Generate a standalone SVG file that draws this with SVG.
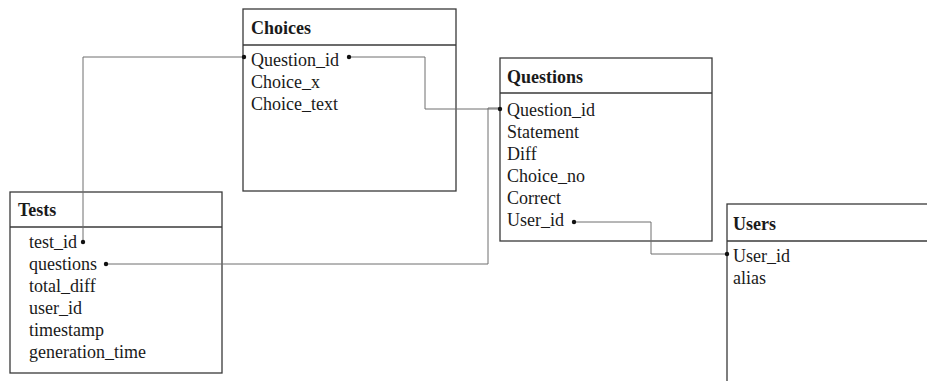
<svg xmlns="http://www.w3.org/2000/svg" width="927" height="381" viewBox="0 0 927 381">
<style>
.box{fill:none;stroke:#3a3a3a;stroke-width:1.3}
.sep{stroke:#3a3a3a;stroke-width:1.3}
.t{font-family:"Liberation Serif","Times New Roman",serif;font-size:18px;fill:#1a1a1a}
.h{font-weight:bold}
.c{fill:none;stroke:#6e6e6e;stroke-width:1}
.d{fill:#111}
</style>
<rect width="927" height="381" fill="#fff"/>
<g id="choices">
<rect class="box" x="243" y="9" width="213" height="182"/>
<line class="sep" x1="243" y1="45" x2="456" y2="45"/>
<text class="t h" x="251" y="34">Choices</text>
<text class="t" x="251" y="66">Question_id</text>
<text class="t" x="251" y="88">Choice_x</text>
<text class="t" x="251" y="110">Choice_text</text>
</g>
<g id="questions">
<rect class="box" x="500" y="58" width="212" height="183"/>
<line class="sep" x1="500" y1="93" x2="712" y2="93"/>
<text class="t h" x="507" y="83">Questions</text>
<text class="t" x="507" y="116">Question_id</text>
<text class="t" x="507" y="138">Statement</text>
<text class="t" x="507" y="160">Diff</text>
<text class="t" x="507" y="182">Choice_no</text>
<text class="t" x="507" y="204">Correct</text>
<text class="t" x="507" y="226">User_id</text>
</g>
<g id="tests">
<rect class="box" x="10" y="192" width="212" height="181"/>
<line class="sep" x1="10" y1="227" x2="222" y2="227"/>
<text class="t h" x="18" y="216">Tests</text>
<text class="t" x="29" y="248">test_id</text>
<text class="t" x="29" y="270">questions</text>
<text class="t" x="29" y="292">total_diff</text>
<text class="t" x="29" y="314">user_id</text>
<text class="t" x="29" y="336">timestamp</text>
<text class="t" x="29" y="358">generation_time</text>
</g>
<g id="users">
<rect class="box" x="727" y="204" width="240" height="200"/>
<line class="sep" x1="727" y1="241" x2="967" y2="241"/>
<text class="t h" x="733" y="230">Users</text>
<text class="t" x="733" y="262">User_id</text>
<text class="t" x="733" y="284">alias</text>
</g>
<g id="connectors">
<polyline class="c" points="244,57 83,57 83,242"/>
<polyline class="c" points="349,57 425,57 425,109 500,109"/>
<polyline class="c" points="106,264 488,264 488,108 500,108"/>
<polyline class="c" points="574,222 651,222 651,254 727,254"/>
<circle class="d" cx="244" cy="57" r="2.2"/>
<circle class="d" cx="349" cy="57" r="2.2"/>
<circle class="d" cx="83" cy="242" r="2.2"/>
<circle class="d" cx="500" cy="109" r="2.2"/>
<circle class="d" cx="106" cy="264" r="2.2"/>
<circle class="d" cx="574" cy="222" r="2.2"/>
<circle class="d" cx="727" cy="254" r="2.2"/>
</g>
</svg>
